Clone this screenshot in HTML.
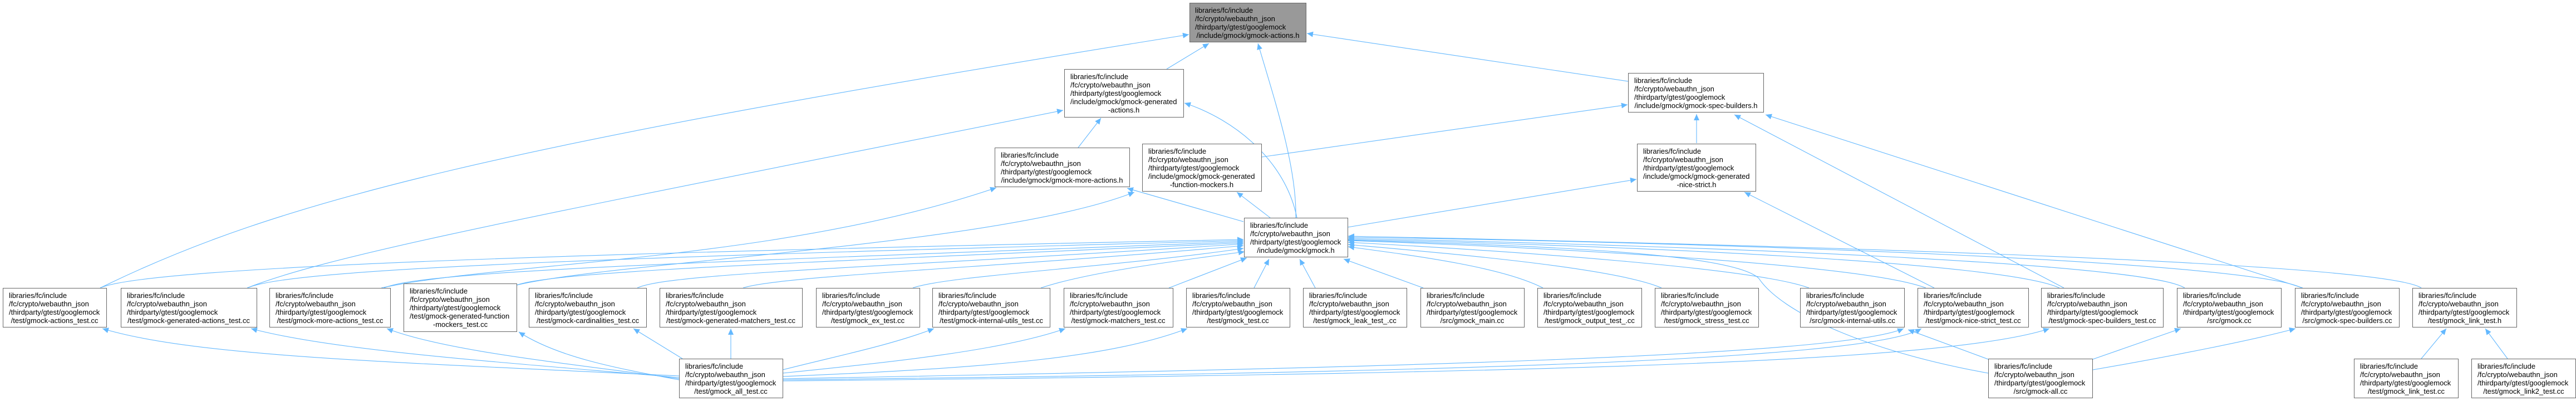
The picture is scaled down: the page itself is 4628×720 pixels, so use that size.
<!DOCTYPE html>
<html><head><meta charset="utf-8"><style>
html,body{margin:0;padding:0;background:#fff;}
svg{display:block;}
text{font-family:"Liberation Sans",Arial,sans-serif;font-size:13px;fill:#000;}
.n rect{fill:#fff;stroke:#666;stroke-width:1;}
.e{fill:none;stroke:#63b8ff;stroke-width:1.1;}
</style></head><body>
<svg width="4628" height="720" viewBox="0 0 4628 720" xmlns="http://www.w3.org/2000/svg">
<defs><marker id="ah" markerUnits="userSpaceOnUse" markerWidth="12" markerHeight="10" refX="11" refY="5" orient="auto"><path d="M0,0 L11,5 L0,10 z" fill="#63b8ff"/></marker></defs>
<g marker-end="url(#ah)">
<!-- into gmock.h -->
<path class="e" d="M180,517 C260,480 1000,455 2234,430"/>
<path class="e" d="M445,517 C520,480 1200,460 2234,432"/>
<path class="e" d="M690,517 C760,485 1300,470 2234,434"/>
<path class="e" d="M928,512 C1000,485 1500,470 2234,436"/>
<path class="e" d="M1145,517 C1200,490 1600,480 2234,438"/>
<path class="e" d="M1335,517 C1400,495 1800,480 2234,441"/>
<path class="e" d="M1640,517 C1700,495 2000,480 2234,446"/>
<path class="e" d="M1870,517 C1950,490 2100,470 2236,452"/>
<path class="e" d="M2100,517 L2240,463"/>
<path class="e" d="M2253,517 L2280,465"/>
<path class="e" d="M2363,517 L2335,465"/>
<path class="e" d="M2557,517 L2414,465"/>
<path class="e" d="M2772,517 C2700,480 2550,460 2422,443"/>
<path class="e" d="M2985,517 C2900,480 2600,455 2422,439"/>
<path class="e" d="M3250,517 C3150,480 2700,450 2422,435"/>
<path class="e" d="M3460,517 C3350,475 2800,445 2422,432"/>
<path class="e" d="M3700,517 C3600,470 2900,440 2422,430"/>
<path class="e" d="M3925,517 C3850,470 3000,440 2422,428"/>
<path class="e" d="M4135,517 C4050,470 3100,435 2422,426"/>
<path class="e" d="M4350,517 C4280,470 3200,440 2422,424"/>
<path class="e" d="M3572,670 C3350,630 3200,560 3160,500 C3110,450 2700,440 2422,431"/>
<!-- into gmock-actions.h -->
<path class="e" d="M180,517 C500,360 900,260 2136,62"/>
<path class="e" d="M2096,124 L2172,78"/>
<path class="e" d="M2328,391 C2330,300 2290,180 2260,78"/>
<path class="e" d="M2925,146 L2348,60"/>
<!-- into generated-actions.h -->
<path class="e" d="M444,517 C600,455 1000,380 1910,198"/>
<path class="e" d="M1937,265 L1978,212"/>
<path class="e" d="M2330,391 C2310,290 2220,215 2128,185"/>
<!-- into more-actions.h -->
<path class="e" d="M685,517 C900,470 1400,470 1790,337"/>
<path class="e" d="M2234,398 L2025,338"/>
<!-- into generated-function-mockers.h -->
<path class="e" d="M928,512 C1100,470 1800,440 2038,345"/>
<path class="e" d="M2282,391 L2222,345"/>
<!-- into spec-builders.h -->
<path class="e" d="M2266,282 L2924,188"/>
<path class="e" d="M3048,257 L3048,205"/>
<path class="e" d="M3708,517 L3116,206"/>
<path class="e" d="M4137,517 L3172,206"/>
<!-- into nice-strict.h -->
<path class="e" d="M2421,408 L2940,322"/>
<path class="e" d="M3475,517 L3134,345"/>
<!-- from gmock_all_test.cc -->
<path class="e" d="M1220,675 C700,650 350,640 184,590"/>
<path class="e" d="M1220,678 C900,650 600,630 451,590"/>
<path class="e" d="M1220,680 C1000,650 800,630 695,590"/>
<path class="e" d="M1220,682 C1100,660 1000,640 932,596"/>
<path class="e" d="M1226,644 L1138,590"/>
<path class="e" d="M1313,644 L1313,590"/>
<path class="e" d="M1406,664 C1500,640 1600,620 1678,590"/>
<path class="e" d="M1406,670 C1600,650 1800,630 1914,590"/>
<path class="e" d="M1406,676 C1800,660 2000,640 2133,590"/>
<path class="e" d="M1406,680 C2500,660 3300,640 3420,590"/>
<path class="e" d="M1406,682 C2500,670 3350,650 3452,590"/>
<path class="e" d="M1406,684 C2800,670 3500,650 3682,590"/>
<!-- from gmock-all.cc -->
<path class="e" d="M3572,645 L3428,592"/>
<path class="e" d="M3760,645 L3918,590"/>
<path class="e" d="M3760,664 C3900,640 4050,610 4124,590"/>
<!-- link tests -->
<path class="e" d="M4350,644 L4395,590"/>
<path class="e" d="M4505,644 L4465,590"/>
</g>

<!-- nodes -->
<g class="n">
<rect x="2137.5" y="5.5" width="209" height="70" style="fill:#999"/>
<text x="2147" y="23">libraries/fc/include</text><text x="2147" y="38">/fc/crypto/webauthn_json</text><text x="2147" y="53">/thirdparty/gtest/googlemock</text><text x="2242" y="68" text-anchor="middle">/include/gmock/gmock-actions.h</text>

<rect x="1912.5" y="124.5" width="214" height="86"/>
<text x="1923" y="142">libraries/fc/include</text><text x="1923" y="157">/fc/crypto/webauthn_json</text><text x="1923" y="172">/thirdparty/gtest/googlemock</text><text x="1923" y="187">/include/gmock/gmock-generated</text><text x="2019" y="202" text-anchor="middle">-actions.h</text>

<rect x="2925.5" y="131.5" width="243" height="70"/>
<text x="2936" y="149">libraries/fc/include</text><text x="2936" y="164">/fc/crypto/webauthn_json</text><text x="2936" y="179">/thirdparty/gtest/googlemock</text><text x="3047" y="194" text-anchor="middle">/include/gmock/gmock-spec-builders.h</text>

<rect x="1787.5" y="265.5" width="242" height="70"/>
<text x="1798" y="283">libraries/fc/include</text><text x="1798" y="298">/fc/crypto/webauthn_json</text><text x="1798" y="313">/thirdparty/gtest/googlemock</text><text x="1908" y="328" text-anchor="middle">/include/gmock/gmock-more-actions.h</text>

<rect x="2052.5" y="258.5" width="214" height="85"/>
<text x="2063" y="276">libraries/fc/include</text><text x="2063" y="291">/fc/crypto/webauthn_json</text><text x="2063" y="306">/thirdparty/gtest/googlemock</text><text x="2063" y="321">/include/gmock/gmock-generated</text><text x="2159" y="336" text-anchor="middle">-function-mockers.h</text>

<rect x="2941.5" y="258.5" width="213" height="85"/>
<text x="2952" y="276">libraries/fc/include</text><text x="2952" y="291">/fc/crypto/webauthn_json</text><text x="2952" y="306">/thirdparty/gtest/googlemock</text><text x="2952" y="321">/include/gmock/gmock-generated</text><text x="3048" y="336" text-anchor="middle">-nice-strict.h</text>

<rect x="2235.5" y="391.5" width="186" height="70"/>
<text x="2246" y="409">libraries/fc/include</text><text x="2246" y="424">/fc/crypto/webauthn_json</text><text x="2246" y="439">/thirdparty/gtest/googlemock</text><text x="2328" y="454" text-anchor="middle">/include/gmock/gmock.h</text>

<rect x="5.5" y="517.5" width="186" height="70"/>
<text x="16" y="535">libraries/fc/include</text><text x="16" y="550">/fc/crypto/webauthn_json</text><text x="16" y="565">/thirdparty/gtest/googlemock</text><text x="98" y="580" text-anchor="middle">/test/gmock-actions_test.cc</text>

<rect x="217.5" y="517.5" width="244" height="70"/>
<text x="228" y="535">libraries/fc/include</text><text x="228" y="550">/fc/crypto/webauthn_json</text><text x="228" y="565">/thirdparty/gtest/googlemock</text><text x="339" y="580" text-anchor="middle">/test/gmock-generated-actions_test.cc</text>

<rect x="484.5" y="517.5" width="217" height="70"/>
<text x="495" y="535">libraries/fc/include</text><text x="495" y="550">/fc/crypto/webauthn_json</text><text x="495" y="565">/thirdparty/gtest/googlemock</text><text x="593" y="580" text-anchor="middle">/test/gmock-more-actions_test.cc</text>

<rect x="725.5" y="509.5" width="203" height="86"/>
<text x="736" y="527">libraries/fc/include</text><text x="736" y="542">/fc/crypto/webauthn_json</text><text x="736" y="557">/thirdparty/gtest/googlemock</text><text x="736" y="572">/test/gmock-generated-function</text><text x="827" y="587" text-anchor="middle">-mockers_test.cc</text>

<rect x="950.5" y="517.5" width="211" height="70"/>
<text x="961" y="535">libraries/fc/include</text><text x="961" y="550">/fc/crypto/webauthn_json</text><text x="961" y="565">/thirdparty/gtest/googlemock</text><text x="1056" y="580" text-anchor="middle">/test/gmock-cardinalities_test.cc</text>

<rect x="1185.5" y="517.5" width="256" height="70"/>
<text x="1196" y="535">libraries/fc/include</text><text x="1196" y="550">/fc/crypto/webauthn_json</text><text x="1196" y="565">/thirdparty/gtest/googlemock</text><text x="1313" y="580" text-anchor="middle">/test/gmock-generated-matchers_test.cc</text>

<rect x="1466.5" y="517.5" width="186" height="70"/>
<text x="1477" y="535">libraries/fc/include</text><text x="1477" y="550">/fc/crypto/webauthn_json</text><text x="1477" y="565">/thirdparty/gtest/googlemock</text><text x="1559" y="580" text-anchor="middle">/test/gmock_ex_test.cc</text>

<rect x="1675.5" y="517.5" width="211" height="70"/>
<text x="1686" y="535">libraries/fc/include</text><text x="1686" y="550">/fc/crypto/webauthn_json</text><text x="1686" y="565">/thirdparty/gtest/googlemock</text><text x="1781" y="580" text-anchor="middle">/test/gmock-internal-utils_test.cc</text>

<rect x="1911.5" y="517.5" width="196" height="70"/>
<text x="1922" y="535">libraries/fc/include</text><text x="1922" y="550">/fc/crypto/webauthn_json</text><text x="1922" y="565">/thirdparty/gtest/googlemock</text><text x="2009" y="580" text-anchor="middle">/test/gmock-matchers_test.cc</text>

<rect x="2131.5" y="517.5" width="186" height="70"/>
<text x="2142" y="535">libraries/fc/include</text><text x="2142" y="550">/fc/crypto/webauthn_json</text><text x="2142" y="565">/thirdparty/gtest/googlemock</text><text x="2224" y="580" text-anchor="middle">/test/gmock_test.cc</text>

<rect x="2341.5" y="517.5" width="186" height="70"/>
<text x="2352" y="535">libraries/fc/include</text><text x="2352" y="550">/fc/crypto/webauthn_json</text><text x="2352" y="565">/thirdparty/gtest/googlemock</text><text x="2434" y="580" text-anchor="middle">/test/gmock_leak_test_.cc</text>

<rect x="2552.5" y="517.5" width="186" height="70"/>
<text x="2563" y="535">libraries/fc/include</text><text x="2563" y="550">/fc/crypto/webauthn_json</text><text x="2563" y="565">/thirdparty/gtest/googlemock</text><text x="2645" y="580" text-anchor="middle">/src/gmock_main.cc</text>

<rect x="2762.5" y="517.5" width="187" height="70"/>
<text x="2773" y="535">libraries/fc/include</text><text x="2773" y="550">/fc/crypto/webauthn_json</text><text x="2773" y="565">/thirdparty/gtest/googlemock</text><text x="2856" y="580" text-anchor="middle">/test/gmock_output_test_.cc</text>

<rect x="2973.5" y="517.5" width="186" height="70"/>
<text x="2984" y="535">libraries/fc/include</text><text x="2984" y="550">/fc/crypto/webauthn_json</text><text x="2984" y="565">/thirdparty/gtest/googlemock</text><text x="3066" y="580" text-anchor="middle">/test/gmock_stress_test.cc</text>

<rect x="3234.5" y="517.5" width="187" height="70"/>
<text x="3245" y="535">libraries/fc/include</text><text x="3245" y="550">/fc/crypto/webauthn_json</text><text x="3245" y="565">/thirdparty/gtest/googlemock</text><text x="3328" y="580" text-anchor="middle">/src/gmock-internal-utils.cc</text>

<rect x="3445.5" y="517.5" width="199" height="70"/>
<text x="3456" y="535">libraries/fc/include</text><text x="3456" y="550">/fc/crypto/webauthn_json</text><text x="3456" y="565">/thirdparty/gtest/googlemock</text><text x="3545" y="580" text-anchor="middle">/test/gmock-nice-strict_test.cc</text>

<rect x="3667.5" y="517.5" width="219" height="70"/>
<text x="3678" y="535">libraries/fc/include</text><text x="3678" y="550">/fc/crypto/webauthn_json</text><text x="3678" y="565">/thirdparty/gtest/googlemock</text><text x="3777" y="580" text-anchor="middle">/test/gmock-spec-builders_test.cc</text>

<rect x="3911.5" y="517.5" width="187" height="70"/>
<text x="3922" y="535">libraries/fc/include</text><text x="3922" y="550">/fc/crypto/webauthn_json</text><text x="3922" y="565">/thirdparty/gtest/googlemock</text><text x="4005" y="580" text-anchor="middle">/src/gmock.cc</text>

<rect x="4123.5" y="517.5" width="187" height="70"/>
<text x="4134" y="535">libraries/fc/include</text><text x="4134" y="550">/fc/crypto/webauthn_json</text><text x="4134" y="565">/thirdparty/gtest/googlemock</text><text x="4217" y="580" text-anchor="middle">/src/gmock-spec-builders.cc</text>

<rect x="4334.5" y="517.5" width="187" height="70"/>
<text x="4345" y="535">libraries/fc/include</text><text x="4345" y="550">/fc/crypto/webauthn_json</text><text x="4345" y="565">/thirdparty/gtest/googlemock</text><text x="4428" y="580" text-anchor="middle">/test/gmock_link_test.h</text>

<rect x="1220.5" y="644.5" width="186" height="70"/>
<text x="1231" y="662">libraries/fc/include</text><text x="1231" y="677">/fc/crypto/webauthn_json</text><text x="1231" y="692">/thirdparty/gtest/googlemock</text><text x="1313" y="707" text-anchor="middle">/test/gmock_all_test.cc</text>

<rect x="3572.5" y="644.5" width="187" height="70"/>
<text x="3583" y="662">libraries/fc/include</text><text x="3583" y="677">/fc/crypto/webauthn_json</text><text x="3583" y="692">/thirdparty/gtest/googlemock</text><text x="3666" y="707" text-anchor="middle">/src/gmock-all.cc</text>

<rect x="4229.5" y="644.5" width="187" height="70"/>
<text x="4240" y="662">libraries/fc/include</text><text x="4240" y="677">/fc/crypto/webauthn_json</text><text x="4240" y="692">/thirdparty/gtest/googlemock</text><text x="4323" y="707" text-anchor="middle">/test/gmock_link_test.cc</text>

<rect x="4440.5" y="644.5" width="187" height="70"/>
<text x="4451" y="662">libraries/fc/include</text><text x="4451" y="677">/fc/crypto/webauthn_json</text><text x="4451" y="692">/thirdparty/gtest/googlemock</text><text x="4534" y="707" text-anchor="middle">/test/gmock_link2_test.cc</text>
</g>
</svg>
</body></html>
